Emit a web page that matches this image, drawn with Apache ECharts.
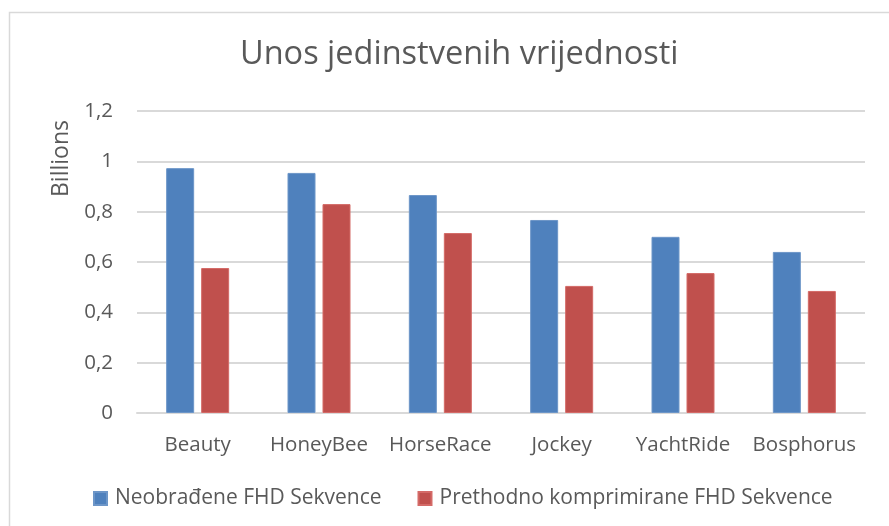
<!DOCTYPE html>
<html>
<head>
<meta charset="utf-8">
<script src="https://cdn.jsdelivr.net/npm/echarts@6/dist/echarts.min.js"></script>
<style>
html,body{margin:0;padding:0;background:#fff;}
#main{width:889px;height:526px;}
</style>
</head>
<body>
<div id="main"></div>
<script>
var categories = ['Beauty', 'HoneyBee', 'HorseRace', 'Jockey', 'YachtRide', 'Bosphorus'];
var rawValues = [0.973, 0.954, 0.866, 0.767, 0.700, 0.640];
var compressedValues = [0.576, 0.830, 0.715, 0.505, 0.556, 0.485];
var seriesNames = ['Neobrađene FHD Sekvence', 'Prethodno komprimirane FHD Sekvence'];

var dom = document.getElementById('main');
var myChart = echarts.init(dom);
var font = 'Open Sans';
var option = {
	animation: false,
	textStyle: { fontFamily: font },
	title: {
		text: 'Unos jedinstvenih vrijednosti',
		left: 235,
		top: 33,
		textStyle: { fontFamily: font, fontSize: 32.5, fontWeight: 'normal', color: '#595959' }
	},
	graphic: [{
		type: 'rect',
		shape: { x: 9.5, y: 12.5, width: 900, height: 600 },
		style: { fill: 'none', stroke: '#d9d9d9', lineWidth: 1.5 },
		silent: true
	}],
	legend: {
		bottom: 12,
		left: 88,
		itemWidth: 13,
		itemHeight: 13,
		itemGap: 36,
		icon: 'rect',
		textStyle: { fontFamily: font, fontSize: 21, color: '#595959', padding: [0, 0, 0, 3] },
		data: seriesNames
	},
	grid: { left: 137, right: 24, top: 111, bottom: 113, containLabel: false },
	xAxis: {
		type: 'category',
		data: categories,
		axisLine: { lineStyle: { color: '#d9d9d9', width: 2 } },
		axisTick: { show: false },
		axisLabel: { fontFamily: font, fontSize: 20.5, color: '#595959', margin: 22, interval: 0 }
	},
	yAxis: {
		type: 'value',
		min: 0,
		max: 1.2,
		interval: 0.2,
		name: 'Billions',
		nameLocation: 'end',
		nameRotate: 90,
		nameGap: 0,
		nameTextStyle: { fontFamily: font, fontSize: 23, color: '#595959', align: 'right', verticalAlign: 'bottom', padding: [0, 9, 64, 0] },
		axisLine: { show: false },
		axisTick: { show: false },
		splitLine: { lineStyle: { color: '#d9d9d9', width: 2 } },
		axisLabel: {
			fontFamily: font, fontSize: 20.5, color: '#595959', margin: 24,
			formatter: function (v) { return String(Math.round(v * 10) / 10).replace('.', ','); }
		}
	},
	series: [{
		name: seriesNames[0],
		type: 'bar',
		data: rawValues,
		barWidth: 28,
		barGap: '25%',
		itemStyle: { color: '#4f81bd', borderColor: '#6d96c8', borderWidth: 1 }
	}, {
		name: seriesNames[1],
		type: 'bar',
		data: compressedValues,
		barWidth: 28,
		itemStyle: { color: '#c0504d', borderColor: '#d46a67', borderWidth: 1 }
	}]
};
myChart.setOption(option);
</script>
</body>
</html>
